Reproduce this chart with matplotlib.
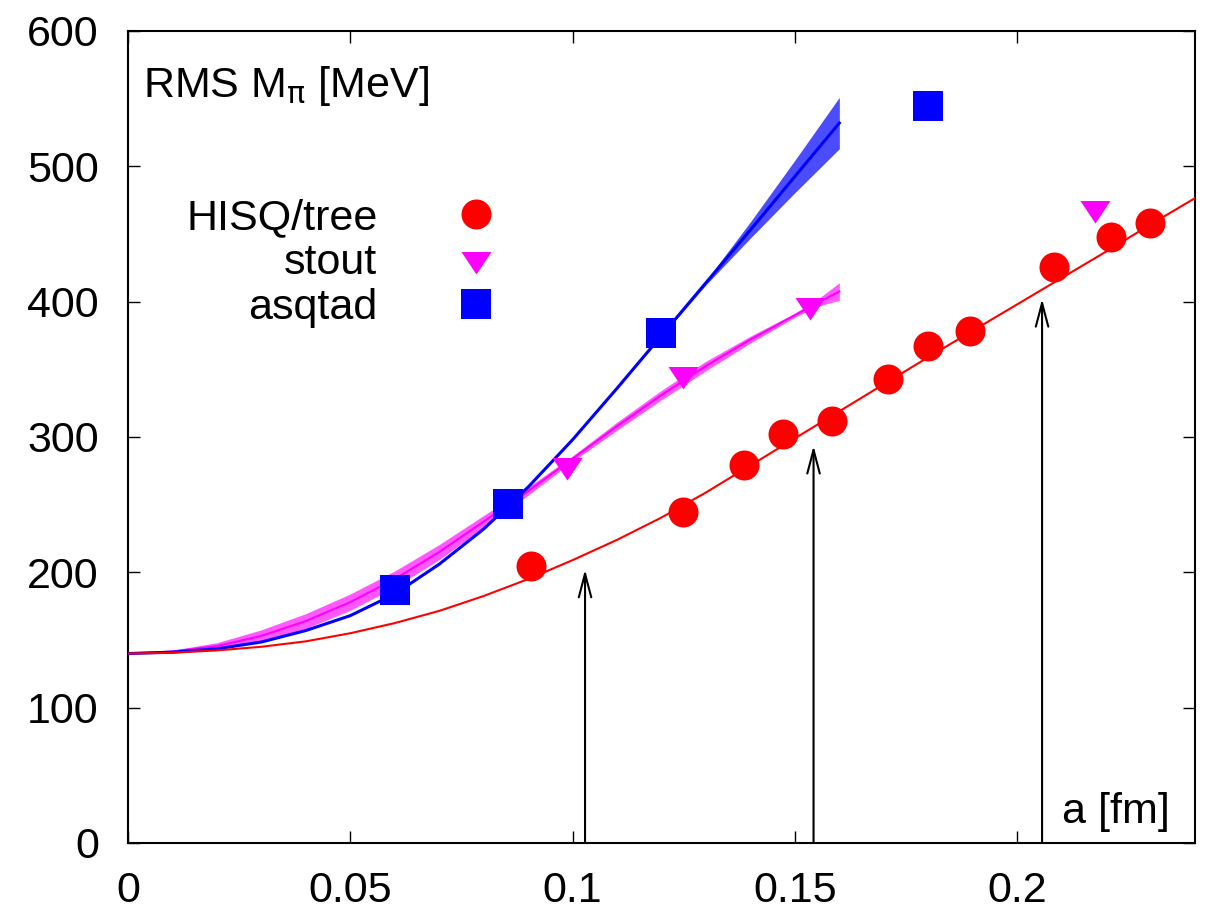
import numpy as np
import matplotlib
matplotlib.use("Agg")
import matplotlib.pyplot as plt
from matplotlib.lines import Line2D

plt.rcParams['font.family'] = ['Liberation Sans', 'DejaVu Sans']
plt.rcParams['mathtext.fontset'] = 'dejavusans'

# measured points
hisq_a = [0.0906, 0.1248, 0.1385, 0.1474, 0.1583, 0.1709, 0.1799, 0.1895, 0.2082, 0.2212, 0.2298]
hisq_m = [205, 244.5, 279, 302, 311.5, 342.5, 367.5, 378, 425.5, 448, 458]

stout_a = [0.0988, 0.1248, 0.1535, 0.2174]
stout_m = [279.5, 346.5, 397.5, 469.5]

asqtad_a = [0.0601, 0.0854, 0.1199, 0.1800]
asqtad_m = [187, 250.5, 376.5, 544.5]

# fit curves
fit_hisq_a = [0, 0.01, 0.02, 0.03, 0.04, 0.05, 0.06, 0.07, 0.08, 0.09, 0.10, 0.11, 0.12,
              0.13, 0.14, 0.15, 0.16, 0.17, 0.18, 0.19, 0.20, 0.21, 0.22, 0.23, 0.24]
fit_hisq_m = [140, 140.6, 142.3, 145, 149, 155, 162.5, 171.5, 182.5, 195, 209, 224, 240.5,
              259, 279, 299, 319, 339, 359, 378.5, 398, 417.5, 437, 457, 476.5]

fit_stout_a = [0, 0.01, 0.02, 0.03, 0.04, 0.05, 0.06, 0.07, 0.08, 0.09, 0.10, 0.11, 0.12,
               0.13, 0.14, 0.15, 0.155, 0.16]
fit_stout_m = [140, 141.5, 145.5, 153, 164, 178, 195, 215, 237.5, 260, 284, 308, 331,
               352.5, 372, 390, 399, 407.5]
fit_stout_err = [0, 1, 2.5, 4.5, 5.5, 6, 6, 5.5, 4.5, 3, 2, 3, 3.5, 3.5, 2.5, 1.5, 2.5, 6.5]

fit_asq_a = [0, 0.01, 0.02, 0.03, 0.04, 0.05, 0.06, 0.07, 0.08, 0.09, 0.10, 0.11, 0.12,
             0.13, 0.14, 0.15, 0.16]
fit_asq_m = [140, 141, 143.5, 148.5, 157, 168, 184, 206, 232, 263, 298, 336, 375,
             414, 453, 492.5, 532]
fit_asq_err = [0, 0, 0, 0, 0, 0, 0, 0, 0, 0, 0, 0.3, 0.6, 1.5, 6, 12, 19]

# arrows: a value and tip height
arrow_a = [0.1028, 0.1542, 0.2056]
arrow_m = [202, 293.5, 402]

fig = plt.figure(figsize=(12.05, 9.09), dpi=100)
ax = fig.add_axes([128/1205, 66/909, 1067/1205, 812/909])

fa = np.array(fit_stout_a); fm = np.array(fit_stout_m); fe = np.array(fit_stout_err)
ax.fill_between(fa, fm - fe, fm + fe, color='#ff00ff', alpha=0.65, lw=0, zorder=2)
ax.plot(fa, fm, color='#ff00ff', lw=1.5, zorder=3)

ba = np.array(fit_asq_a); bm = np.array(fit_asq_m); be = np.array(fit_asq_err)
ax.fill_between(ba, bm - be, bm + be, color='#0000ff', alpha=0.7, lw=0, zorder=2)
ax.plot(ba, bm, color='#0000ff', lw=2.2, zorder=3)

ax.plot(fit_hisq_a, fit_hisq_m, color='#ff0000', lw=1.5, zorder=3)

for a, m in zip(arrow_a, arrow_m):
    ax.annotate('', xy=(a, m), xytext=(a, 0),
                arrowprops=dict(arrowstyle='->,head_length=1.7,head_width=0.45',
                                color='k', lw=1.5, shrinkA=0, shrinkB=0,
                                mutation_scale=10), zorder=2)

tri = [(-1, 0.5), (1, 0.5), (0, -1)]
ms = 21.6
ax.plot(hisq_a, hisq_m, ls='none', marker='o', ms=ms, mew=0, color='#ff0000', zorder=5)
ax.plot(stout_a, stout_m, ls='none', marker=tri, ms=ms, mew=0, color='#ff00ff', zorder=5)
ax.plot(asqtad_a, asqtad_m, ls='none', marker='s', ms=ms, mew=0, color='#0000ff', zorder=5)

handles = [Line2D([], [], ls='none', marker='o', ms=ms, mew=0, color='#ff0000'),
           Line2D([], [], ls='none', marker=tri, ms=ms, mew=0, color='#ff00ff'),
           Line2D([], [], ls='none', marker='s', ms=ms, mew=0, color='#0000ff')]
ax.legend(handles, ['HISQ/tree', 'stout', 'asqtad'], markerfirst=False, frameon=False,
          fontsize=31, handlelength=2.0, handletextpad=1.29, labelspacing=0.12,
          borderpad=0, borderaxespad=0, numpoints=1,
          loc='center right', bbox_to_anchor=(0.3665, 0.714))

ax.text(0.014, 0.919, r'RMS M$_{\mathrm{\pi}}$ [MeV]', transform=ax.transAxes, fontsize=31,
        ha='left', va='baseline')
ax.text(0.9766, 0.0246, 'a [fm]', transform=ax.transAxes, fontsize=31,
        ha='right', va='baseline')

ax.set_xlim(0, 0.24)
ax.set_ylim(0, 600)
ax.set_xticks([0, 0.05, 0.1, 0.15, 0.2])
ax.set_xticklabels(['0', '0.05', '0.1', '0.15', '0.2'])
ax.set_yticks(range(0, 601, 100))
ax.tick_params(direction='in', length=8.5, width=1, labelsize=31,
               top=True, right=True)
ax.tick_params(axis='x', pad=20)
ax.tick_params(axis='y', pad=21)
for s in ax.spines.values():
    s.set_linewidth(1.5)

fig.savefig('out.png', dpi=100)
